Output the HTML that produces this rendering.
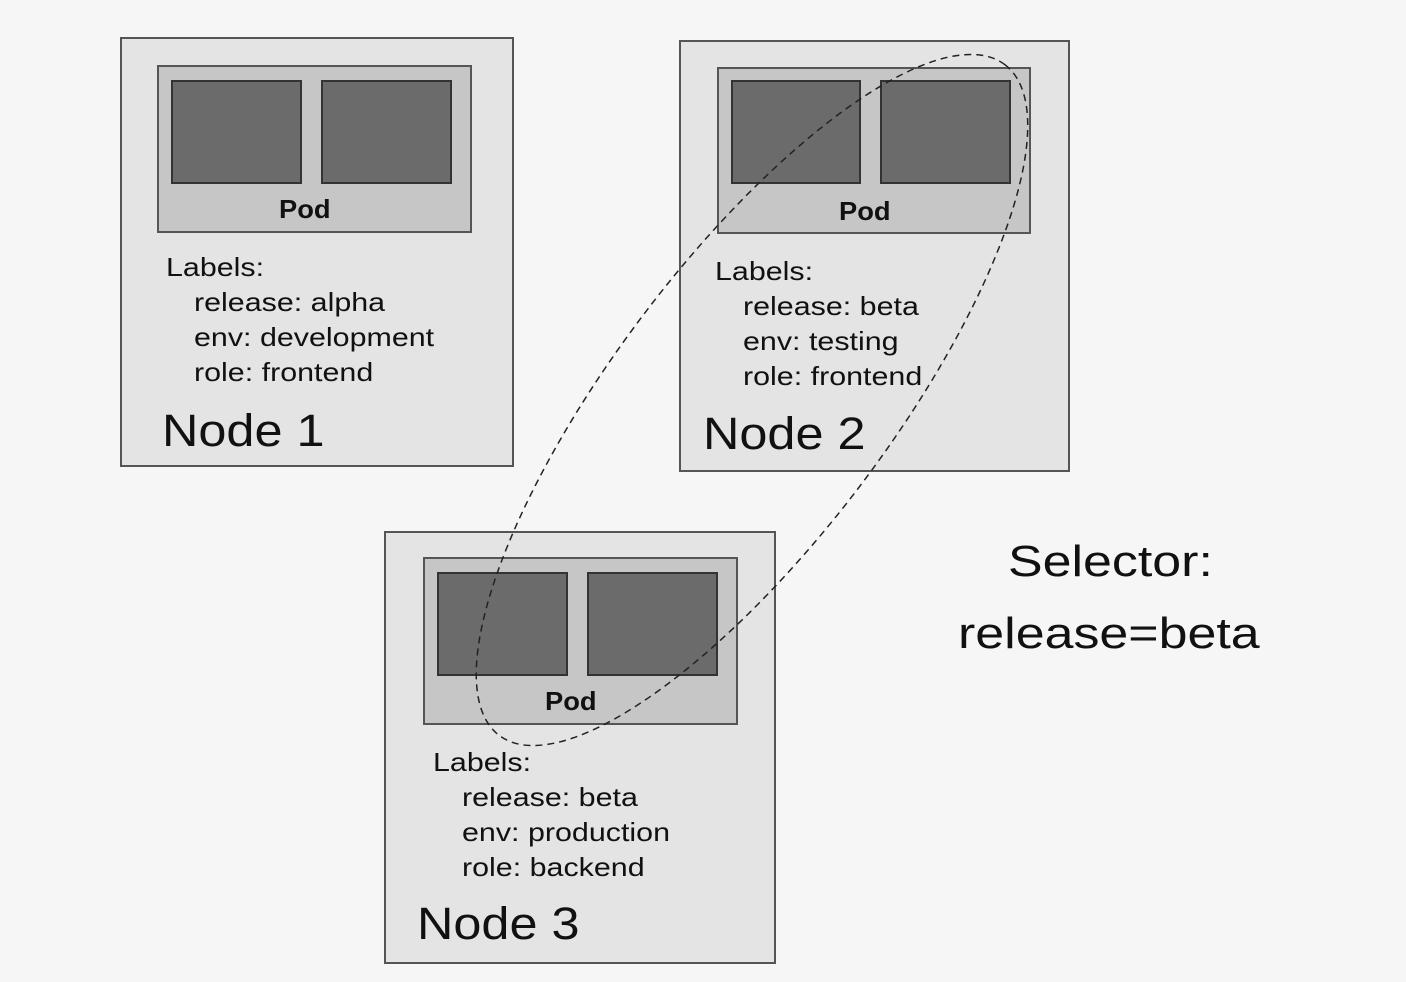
<!DOCTYPE html>
<html><head><meta charset="utf-8"><style>
html,body{margin:0;padding:0;}
body{width:1406px;height:982px;background:#f6f6f6;position:relative;overflow:hidden;font-family:"Liberation Sans",Arial,sans-serif;}
.node{position:absolute;background:#e4e4e4;border:2px solid #555;box-sizing:border-box;}
.pod{position:absolute;background:#c6c6c6;border:2px solid #555;box-sizing:border-box;}
.sq{position:absolute;background:#6b6b6b;border:2px solid #333;box-sizing:border-box;}
.t{position:absolute;color:#111;white-space:nowrap;line-height:1;transform-origin:left top;transform:scaleX(1.17);}
.pl{font-weight:bold;font-size:26px;transform:scaleX(1.05);}
.lb{font-size:26px;}
.nn{font-size:45px;transform:scaleX(1.12);}
</style></head><body>

<div class="node" style="left:120px;top:37px;width:394px;height:430px;"></div>
<div class="pod" style="left:157px;top:65px;width:315px;height:168px;"></div>
<div class="sq" style="left:171px;top:80px;width:131px;height:104px;"></div>
<div class="sq" style="left:321px;top:80px;width:131px;height:104px;"></div>
<div class="t pl" style="left:279px;top:196px;">Pod</div>
<div class="t lb" style="left:166px;top:254px;">Labels:</div>
<div class="t lb" style="left:194px;top:289px;">release: alpha</div>
<div class="t lb" style="left:194px;top:324px;">env: development</div>
<div class="t lb" style="left:194px;top:359px;">role: frontend</div>
<div class="t nn" style="left:162px;top:408px;">Node 1</div>

<div class="node" style="left:679px;top:40px;width:391px;height:432px;"></div>
<div class="pod" style="left:717px;top:67px;width:314px;height:167px;"></div>
<div class="sq" style="left:731px;top:80px;width:130px;height:104px;"></div>
<div class="sq" style="left:880px;top:80px;width:131px;height:104px;"></div>
<div class="t pl" style="left:839px;top:198px;">Pod</div>
<div class="t lb" style="left:715px;top:258px;">Labels:</div>
<div class="t lb" style="left:743px;top:293px;">release: beta</div>
<div class="t lb" style="left:743px;top:328px;">env: testing</div>
<div class="t lb" style="left:743px;top:363px;">role: frontend</div>
<div class="t nn" style="left:703px;top:411px;">Node 2</div>

<div class="node" style="left:384px;top:531px;width:392px;height:433px;"></div>
<div class="pod" style="left:423px;top:557px;width:315px;height:168px;"></div>
<div class="sq" style="left:437px;top:572px;width:131px;height:104px;"></div>
<div class="sq" style="left:587px;top:572px;width:131px;height:104px;"></div>
<div class="t pl" style="left:545px;top:688px;">Pod</div>
<div class="t lb" style="left:433px;top:749px;">Labels:</div>
<div class="t lb" style="left:462px;top:784px;">release: beta</div>
<div class="t lb" style="left:462px;top:819px;">env: production</div>
<div class="t lb" style="left:462px;top:854px;">role: backend</div>
<div class="t nn" style="left:417px;top:901px;">Node 3</div>

<div class="t nn" style="left:1008px;top:540px;font-size:44px;transform:scaleX(1.18);">Selector:</div>
<div class="t nn" style="left:958px;top:612px;font-size:44px;transform:scaleX(1.18);">release=beta</div>

<svg width="1406" height="982" style="position:absolute;left:0;top:0;">
<ellipse cx="752" cy="400" rx="420" ry="138" transform="rotate(-53 752 400)" fill="none" stroke="#222" stroke-width="1.5" stroke-dasharray="7,5"/>
</svg>
</body></html>
